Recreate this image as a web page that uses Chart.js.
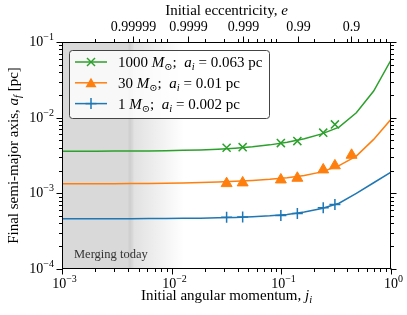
<!DOCTYPE html>
<html>
<head>
<meta charset="utf-8">
<script src="https://cdn.jsdelivr.net/npm/chart.js@4/dist/chart.umd.min.js"></script>
<style>
  html, body { margin: 0; background: #fff; }
  #wrap { width: 407px; height: 315px; }
</style>
</head>
<body>
<div id="wrap"><canvas id="chart" width="407" height="315"></canvas></div>
<script>
// model curves, sampled on a log grid in j
const jModel = [0.001, 0.00144, 0.00207, 0.00298, 0.00428, 0.00616, 0.00886, 0.0127, 0.0183, 0.0264,
  0.0379, 0.0546, 0.0785, 0.113, 0.162, 0.234, 0.336, 0.483, 0.695, 1.0];
const aModel1000 = [0.00360, 0.00360, 0.00361, 0.00362, 0.00363, 0.00364, 0.00366, 0.00370, 0.00375, 0.00383,
  0.00395, 0.00412, 0.00437, 0.00472, 0.00525, 0.00610, 0.00750, 0.0116, 0.0225, 0.0578];
const aModel30 = [0.00134, 0.00134, 0.00134, 0.00134, 0.00135, 0.00135, 0.00136, 0.00137, 0.00139, 0.00141,
  0.00144, 0.00148, 0.00153, 0.00161, 0.00172, 0.00192, 0.00232, 0.00310, 0.00516, 0.0095];
const aModel1 = [0.000462, 0.000462, 0.000462, 0.000463, 0.000463, 0.000464, 0.000465, 0.000467, 0.000470, 0.000474,
  0.000480, 0.000490, 0.000505, 0.000527, 0.000565, 0.000630, 0.000740, 0.00100, 0.00138, 0.0019];

// simulation points
const jSim = [0.0317, 0.0444, 0.099, 0.14, 0.241, 0.308];
const jSim30 = [0.0317, 0.0444, 0.099, 0.14, 0.241, 0.308, 0.437];
const aSim1000 = [0.00401, 0.00408, 0.00461, 0.00490, 0.00634, 0.00815];
const aSim30 = [0.00135, 0.00138, 0.00151, 0.00159, 0.00205, 0.00232, 0.00320];
const aSim1 = [0.000484, 0.000488, 0.000511, 0.000542, 0.000646, 0.000713];

// axes
const xTicks = [1e-3, 1e-2, 1e-1, 1];
const xTickExp = ['\u22123', '\u22122', '\u22121', '0'];
const yTicks = [1e-4, 1e-3, 1e-2, 1e-1];
const yTickExp = ['\u22124', '\u22123', '\u22122', '\u22121'];
const eTicks = [0.99999, 0.9999, 0.999, 0.99, 0.9];
const eTickLabels = ['0.99999', '0.9999', '0.999', '0.99', '0.9'];

// shaded "merging today" band
const jMerge = 0.0043;
const jFadeEnd = 0.013;

const legendRows = [
  { mass: '1000', ai: '0.063', color: '#2ca02c', marker: 'x' },
  { mass: '30', ai: '0.01', color: '#ff7f0e', marker: 'tri' },
  { mass: '1', ai: '0.002', color: '#1f77b4', marker: 'plus' }
];

const GREEN = '#2ca02c', ORANGE = '#ff7f0e', BLUE = '#1f77b4';
const SERIF = '"Liberation Serif", "DejaVu Serif", serif';

const toXY = (xs, ys) => xs.map((x, i) => ({ x: x, y: ys[i] }));

function minorTicks(lo, hi) {
  const out = [];
  for (let p = lo; p < hi; p++) {
    for (let k = 2; k <= 9; k++) out.push(k * Math.pow(10, p));
  }
  return out;
}

function line(ctx, x1, y1, x2, y2) {
  ctx.beginPath();
  ctx.moveTo(x1, y1);
  ctx.lineTo(x2, y2);
  ctx.stroke();
}

// draw a run of text pieces with different fonts / offsets
function richWidth(ctx, parts) {
  let w = 0;
  parts.forEach(p => { ctx.font = p.f; w += ctx.measureText(p.t).width; });
  return w;
}
function drawRich(ctx, parts, x, y, align) {
  let cx = x;
  if (align === 'center') cx = x - richWidth(ctx, parts) / 2;
  if (align === 'right') cx = x - richWidth(ctx, parts);
  parts.forEach(p => {
    ctx.font = p.f;
    ctx.fillText(p.t, cx, y + (p.dy || 0));
    cx += ctx.measureText(p.t).width;
  });
}

const F = (s, st) => (st ? st + ' ' : '') + s + 'px ' + SERIF;

function pow10(exp) {
  return [{ t: '10', f: F(14) }, { t: exp, f: F(10), dy: -6 }];
}

function drawMarker(ctx, kind, x, y, color) {
  ctx.save();
  ctx.strokeStyle = color;
  ctx.fillStyle = color;
  ctx.lineWidth = 1.5;
  if (kind === 'x') {
    line(ctx, x - 4, y - 4, x + 4, y + 4);
    line(ctx, x - 4, y + 4, x + 4, y - 4);
  } else if (kind === 'plus') {
    line(ctx, x - 5.5, y, x + 5.5, y);
    line(ctx, x, y - 5.5, x, y + 5.5);
  } else {
    ctx.beginPath();
    ctx.moveTo(x, y - 5);
    ctx.lineTo(x - 5.5, y + 4.5);
    ctx.lineTo(x + 5.5, y + 4.5);
    ctx.closePath();
    ctx.fill();
  }
  ctx.restore();
}

const decorPlugin = {
  id: 'decor',
  beforeDraw(chart) {
    const ctx = chart.ctx;
    ctx.save();
    ctx.fillStyle = '#fff';
    ctx.fillRect(0, 0, chart.width, chart.height);
    ctx.restore();
  },
  beforeDatasetsDraw(chart) {
    const ctx = chart.ctx, a = chart.chartArea, xs = chart.scales.x;
    const xm = xs.getPixelForValue(jMerge);
    const xf = xs.getPixelForValue(jFadeEnd);
    ctx.save();
    ctx.fillStyle = 'rgba(0,0,0,0.15)';
    ctx.fillRect(a.left, a.top, xm - a.left, a.bottom - a.top);
    ctx.fillStyle = 'rgba(0,0,0,0.04)';
    ctx.fillRect(xm - 3, a.top, 5, a.bottom - a.top);
    const g = ctx.createLinearGradient(xm, 0, xf, 0);
    g.addColorStop(0, 'rgba(0,0,0,0.12)');
    g.addColorStop(1, 'rgba(0,0,0,0)');
    ctx.fillStyle = g;
    ctx.fillRect(xm, a.top, xf - xm, a.bottom - a.top);
    ctx.fillStyle = '#333';
    ctx.font = F(12.5);
    ctx.textBaseline = 'alphabetic';
    ctx.fillText('Merging today', a.left + 12, a.bottom - 11);
    ctx.restore();
  },
  afterDatasetsDraw(chart) {
    const ctx = chart.ctx, a = chart.chartArea;
    const xs = chart.scales.x, ys = chart.scales.y;
    ctx.save();
    ctx.strokeStyle = '#000';
    ctx.fillStyle = '#000';
    ctx.lineWidth = 1;
    ctx.textBaseline = 'alphabetic';

    // frame
    const L = Math.round(a.left) + 0.5, R = Math.round(a.right) - 0.5;
    const T = Math.round(a.top) + 0.5, B = Math.round(a.bottom) - 0.5;
    ctx.strokeRect(L, T, R - L, B - T);

    // x ticks (bottom, and mirrored minors at top)
    xTicks.forEach((v, i) => {
      const px = Math.round(xs.getPixelForValue(v)) + 0.5;
      line(ctx, px, B, px, B + 6);
      drawRich(ctx, pow10(xTickExp[i]), px + 2, 288, 'center');
    });
    minorTicks(-3, 0).forEach(v => {
      const px = Math.round(xs.getPixelForValue(v)) + 0.5;
      line(ctx, px, B, px, B + 3.5);
      line(ctx, px, T, px, T - 3.5);
    });

    // top eccentricity axis
    eTicks.forEach((e, i) => {
      const j = Math.sqrt(1 - e * e);
      const px = Math.round(xs.getPixelForValue(j)) + 0.5;
      line(ctx, px, T, px, T - 6);
      ctx.font = F(14);
      ctx.textAlign = 'center';
      ctx.fillText(eTickLabels[i], px, 30.5);
    });
    ctx.textAlign = 'left';

    // y ticks (left and right)
    yTicks.forEach((v, i) => {
      const py = Math.round(ys.getPixelForValue(v)) + 0.5;
      line(ctx, L, py, L - 6, py);
      line(ctx, R, py, R + 6, py);
      drawRich(ctx, pow10(yTickExp[i]), 54, py + 3.5, 'right');
    });
    minorTicks(-4, -1).forEach(v => {
      const py = Math.round(ys.getPixelForValue(v)) + 0.5;
      line(ctx, L, py, L - 3.5, py);
      line(ctx, R, py, R + 3.5, py);
    });

    // axis titles
    const cx = (a.left + a.right) / 2, cy = (a.top + a.bottom) / 2;
    drawRich(ctx, [
      { t: 'Initial angular momentum, ', f: F(15) },
      { t: 'j', f: F(15, 'italic') },
      { t: 'i', f: F(10.5, 'italic'), dy: 3 }
    ], cx, 300, 'center');
    drawRich(ctx, [
      { t: 'Initial eccentricity, ', f: F(15) },
      { t: 'e', f: F(15, 'italic') }
    ], cx, 15, 'center');
    ctx.save();
    ctx.translate(18, cy);
    ctx.rotate(-Math.PI / 2);
    drawRich(ctx, [
      { t: 'Final semi-major axis, ', f: F(15) },
      { t: 'a', f: F(15, 'italic') },
      { t: 'f', f: F(10.5, 'italic'), dy: 3 },
      { t: ' [pc]', f: F(15) }
    ], 0, 0, 'center');
    ctx.restore();

    // legend
    const bx = 69.5, by = 50.5, bw = 200, bh = 68;
    ctx.beginPath();
    ctx.roundRect(bx, by, bw, bh, 3);
    ctx.fillStyle = 'rgba(255,255,255,0.8)';
    ctx.fill();
    ctx.strokeStyle = '#444';
    ctx.stroke();
    legendRows.forEach((r, i) => {
      const ry = 62 + i * 20.8;
      ctx.strokeStyle = r.color;
      ctx.lineWidth = 1.5;
      line(ctx, 75, ry, 107, ry);
      drawMarker(ctx, r.marker, 91, ry, r.color);
      ctx.fillStyle = '#000';
      drawRich(ctx, [
        { t: r.mass + ' ', f: F(15) },
        { t: 'M', f: F(15, 'italic') },
        { t: '\u2299', f: F(10), dy: 3 },
        { t: ';  ', f: F(15) },
        { t: 'a', f: F(15, 'italic') },
        { t: 'i', f: F(10.5, 'italic'), dy: 3 },
        { t: ' = ' + r.ai + ' pc', f: F(15) }
      ], 118, ry + 5, 'left');
    });
    ctx.restore();
  }
};

const ctx = document.getElementById('chart').getContext('2d');
const chart = new Chart(ctx, {
  type: 'line',
  data: {
    datasets: [
      { data: toXY(jModel, aModel1000), borderColor: GREEN, borderWidth: 1.5, pointRadius: 0, fill: false },
      { data: toXY(jModel, aModel30), borderColor: ORANGE, borderWidth: 1.5, pointRadius: 0, fill: false },
      { data: toXY(jModel, aModel1), borderColor: BLUE, borderWidth: 1.5, pointRadius: 0, fill: false },
      { type: 'scatter', data: toXY(jSim, aSim1000), pointStyle: 'crossRot', pointRadius: 5.7,
        borderColor: GREEN, backgroundColor: GREEN, borderWidth: 1.5 },
      { type: 'scatter', data: toXY(jSim30, aSim30), pointStyle: 'triangle', pointRadius: 6.3,
        borderColor: ORANGE, backgroundColor: ORANGE, borderWidth: 1 },
      { type: 'scatter', data: toXY(jSim, aSim1), pointStyle: 'cross', pointRadius: 5.5,
        borderColor: BLUE, backgroundColor: BLUE, borderWidth: 1.5 }
    ]
  },
  options: {
    responsive: false,
    animation: false,
    layout: { padding: { left: 62, right: 16, top: 42, bottom: 46 } },
    scales: {
      x: { type: 'logarithmic', min: 1e-3, max: 1, display: false },
      y: { type: 'logarithmic', min: 1e-4, max: 1e-1, display: false }
    },
    plugins: { legend: { display: false }, tooltip: { enabled: false } }
  },
  plugins: [decorPlugin]
});
</script>
</body>
</html>
